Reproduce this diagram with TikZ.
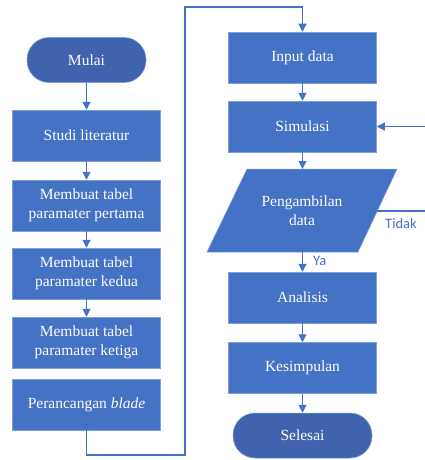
\documentclass[tikz,border=0pt]{standalone}
\usepackage{fontspec}
\setmainfont{Liberation Serif}
\newfontfamily\labfont{Carlito}
\usetikzlibrary{arrows.meta}
\definecolor{boxblue}{HTML}{4472C4}
\definecolor{termblue}{HTML}{3F64AD}
\definecolor{edgeblue}{HTML}{7E9FD9}
\begin{document}
\begin{tikzpicture}[x=1pt,y=-1pt,
  procbox/.style={rectangle,fill=boxblue,draw=edgeblue,line width=0.5pt,minimum width=148pt,minimum height=51pt,inner sep=0pt,text=white,align=center,font=\fontsize{15.5}{19.5}\selectfont},
  termbox/.style={rectangle,rounded corners=22pt,fill=termblue,draw=edgeblue,line width=0.5pt,minimum height=45pt,inner sep=0pt,text=white,align=center,font=\fontsize{15.5}{19.5}\selectfont},
  conn/.style={draw=boxblue,line width=1.2pt},
  arr/.style={conn,-{Triangle[length=8pt,width=8pt]}},
  lab/.style={text=boxblue,font=\labfont\fontsize{14.5}{16}\selectfont,inner sep=0pt}]
\useasboundingbox (0,0) rectangle (425,460);
% left column
\node[termbox,minimum width=119pt] (mulai) at (86.5,60) {Mulai};
\node[procbox] (studi) at (86.5,135.5) {Studi literatur};
\node[procbox] (pert) at (86.5,205.5) {Membuat tabel\\paramater pertama};
\node[procbox] (kedua) at (86.5,273.5) {Membuat tabel\\paramater kedua};
\node[procbox] (ketiga) at (86.5,342.5) {Membuat tabel\\paramater ketiga};
\node[procbox] (ranc) at (86.5,404.5) {Perancangan \textit{blade}};
% right column
\node[procbox] (input) at (302.5,57.5) {Input data};
\node[procbox] (sim) at (302.5,126.5) {Simulasi};
\coordinate (p1) at (247,169);
\coordinate (p2) at (397,169);
\coordinate (p3) at (358,252);
\coordinate (p4) at (207,252);
\fill[boxblue] (p1) -- (p2) -- (p3) -- (p4) -- cycle;
\draw[edgeblue,line width=0.5pt] (p1) -- (p2) -- (p3) -- (p4) -- cycle;
\node[text=white,align=center,font=\fontsize{15.5}{19.5}\selectfont,inner sep=0pt] (peng) at (302,210.5) {Pengambilan\\data};
\coordinate (ptop) at (302.5,169);
\coordinate (pbot) at (302.5,252);
\coordinate (pright) at (377,211);
\node[procbox] (anal) at (302.5,297.5) {Analisis};
\node[procbox] (kesim) at (302.5,368) {Kesimpulan};
\node[termbox,minimum width=139pt] (selesai) at (302.5,435.5) {Selesai};
% connectors
\draw[arr] (mulai.south) -- (studi.north);
\draw[arr] (studi.south) -- (pert.north);
\draw[arr] (pert.south) -- (kedua.north);
\draw[arr] (kedua.south) -- (ketiga.north);
\coordinate (lb) at (86.5,455);
\coordinate (lr) at (185,7);
\draw[arr] (ranc.south) -- (lb) -| (lr) -| (input.north);
\draw[arr] (input.south) -- (sim.north);
\draw[arr] (sim.south) -- (ptop);
\draw[arr] (pbot) -- (anal.north);
\draw[arr] (anal.south) -- (kesim.north);
\draw[arr] (kesim.south) -- (selesai.north);
\coordinate (rr) at (428,211);
\draw[arr] (pright) -- (rr) |- (sim.east);
\node[lab,anchor=west] (tidak) at (385,224) {Tidak};
\node[lab,anchor=west] (ya) at (313,261) {Ya};
\end{tikzpicture}
\end{document}
